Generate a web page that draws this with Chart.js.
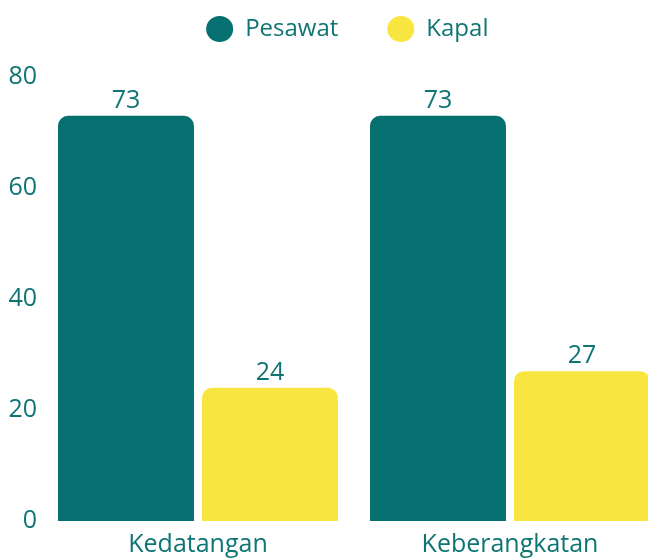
<!DOCTYPE html>
<html>
<head>
<meta charset="utf-8">
<script src="https://cdn.jsdelivr.net/npm/chart.js@4.4.0/dist/chart.umd.min.js"></script>
<style>
  html, body { margin: 0; padding: 0; background: #fff; overflow: hidden; }
  /* the original plot runs past the right and bottom edge of the picture */
  #wrap { width: 680px; height: 569px; }
</style>
</head>
<body>
<div id="wrap"><canvas id="myChart"></canvas></div>
<script>
const categories = ['Kedatangan', 'Keberangkatan'];
const pesawat = [73, 73];
const kapal = [24, 27];
const yMin = 0;
const yMax = 80;
const yStep = 20;

const textColor = '#0e7474';
Chart.defaults.font.family = "'Open Sans', sans-serif";
Chart.defaults.font.size = 25;
Chart.defaults.color = textColor;

// value labels above every bar
const valueLabels = {
    id: 'valueLabels',
    afterDatasetsDraw(chart) {
        const ctx = chart.ctx;
        ctx.save();
        ctx.font = "25px 'Open Sans', sans-serif";
        ctx.fillStyle = textColor;
        ctx.textAlign = 'center';
        ctx.textBaseline = 'alphabetic';
        chart.data.datasets.forEach((dataset, i) => {
            chart.getDatasetMeta(i).data.forEach((bar, j) => {
                ctx.fillText(dataset.data[j], bar.x, bar.y - 8);
            });
        });
        ctx.restore();
    }
};

// keep the wide legend item spacing but pull the plot up under it,
// and nudge the legend a bit to the right
const legendTweak = {
    id: 'legendTweak',
    beforeInit(chart) {
        const fit = chart.legend.fit;
        chart.legend.fit = function () {
            fit.bind(chart.legend)();
            this.height = 109;
        };
    },
    afterLayout(chart) {
        chart.legend.left += 12.6;
        chart.legend.right += 12.6;
    }
};

const canvas = document.getElementById('myChart');

const myChart = new Chart(canvas, {
    type: 'bar',
    data: {
        labels: categories,
        datasets: [
            {
                label: 'Pesawat',
                backgroundColor: '#066f70',
                data: pesawat,
            },
            {
                label: 'Kapal',
                backgroundColor: '#f9e53f',
                data: kapal,
            }
        ]
    },
    options: {
        animation: false,
        responsive: true,
        maintainAspectRatio: false,
        layout: {
            padding: { top: -32, left: 3.4, right: 14, bottom: 0 }
        },
        datasets: {
            bar: {
                categoryPercentage: 0.923,
                barPercentage: 0.944,
                borderRadius: 10,
                borderWidth: 0
            }
        },
        plugins: {
            legend: {
                position: 'top',
                labels: {
                    usePointStyle: true,
                    pointStyle: 'circle',
                    pointStyleWidth: 27,
                    boxHeight: 18.4,
                    padding: 49,
                    color: textColor,
                    font: { size: 24 }
                }
            },
            tooltip: { enabled: false }
        },
        scales: {
            x: {
                grid: { display: false, drawTicks: false },
                border: { display: false },
                ticks: { padding: 9, color: textColor }
            },
            y: {
                min: yMin,
                max: yMax,
                grid: { display: false, drawTicks: false },
                border: { display: false },
                ticks: { stepSize: yStep, padding: 5, color: textColor }
            }
        }
    },
    plugins: [valueLabels, legendTweak]
});
</script>
</body>
</html>
